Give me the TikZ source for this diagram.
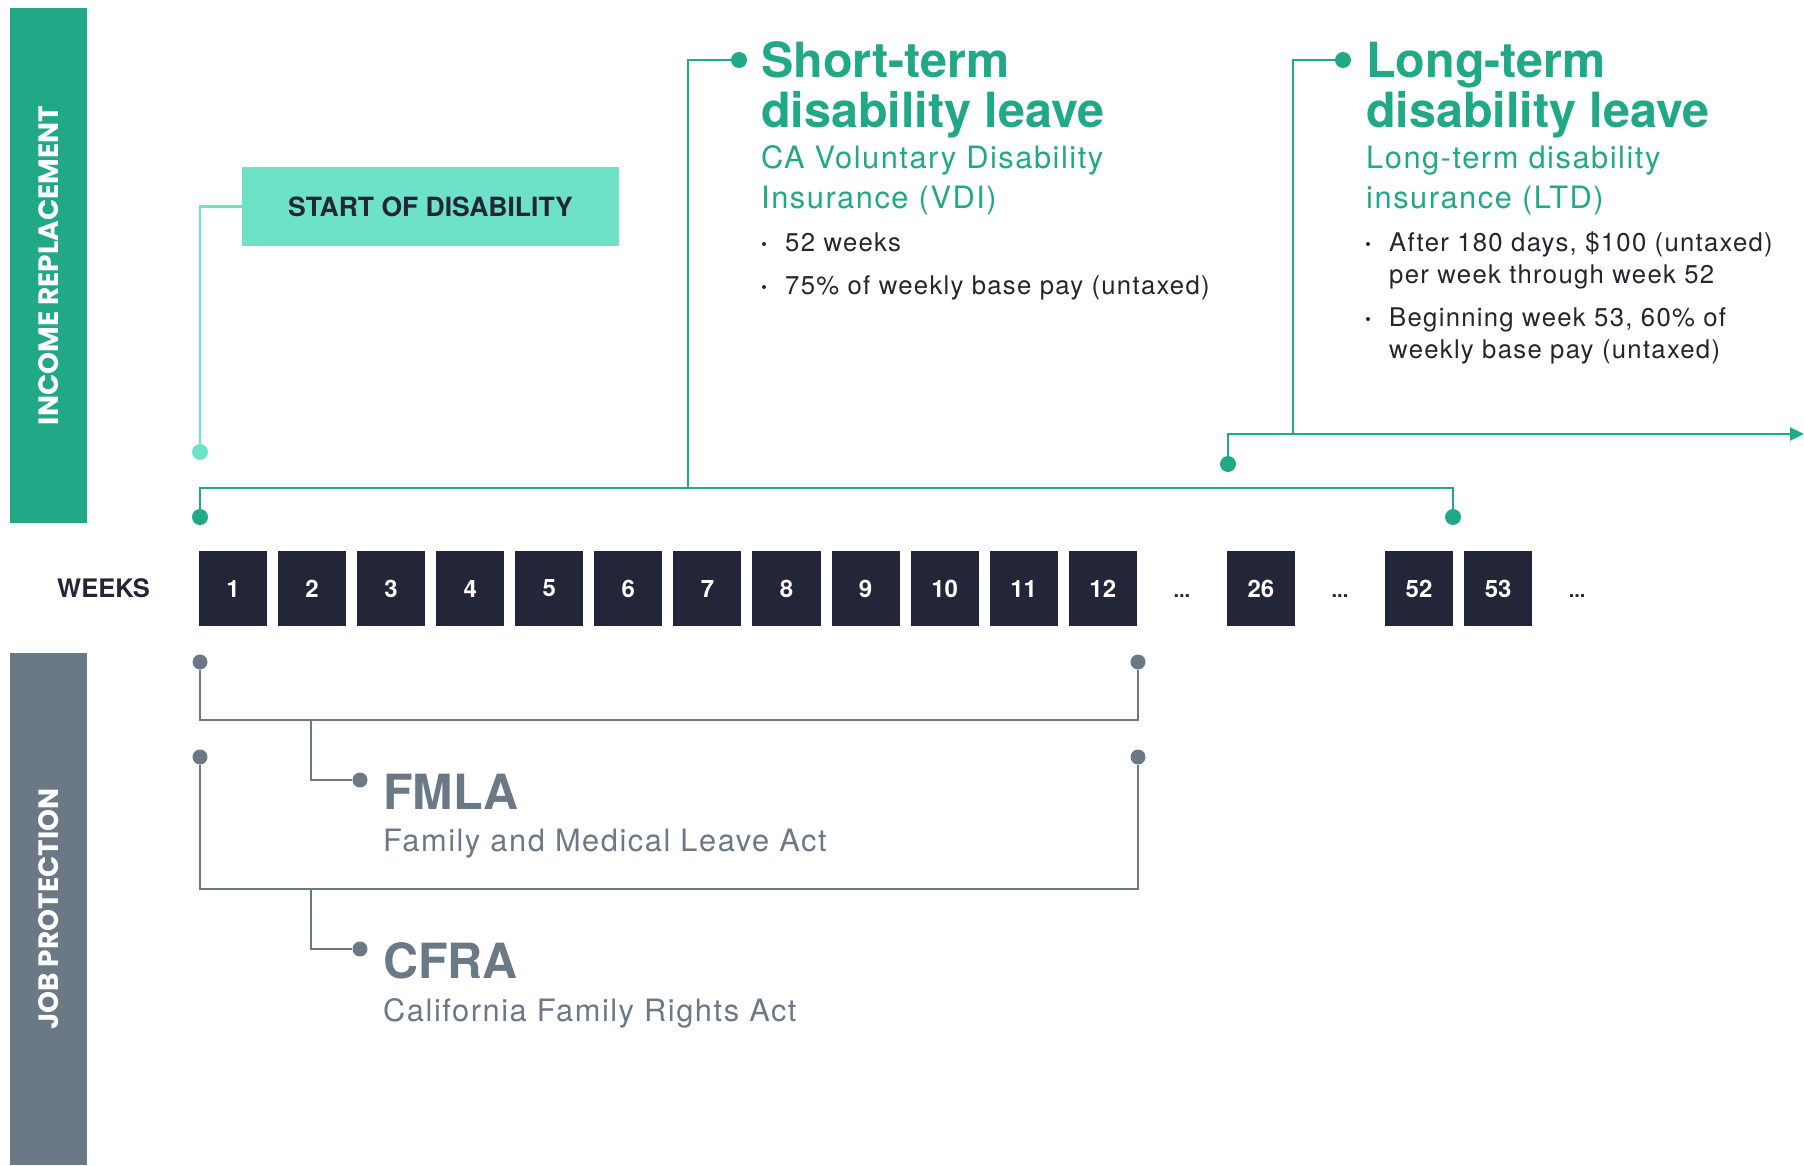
\documentclass[tikz,border=0pt]{standalone}
\usepackage{fontspec}
\setmainfont{TeX Gyre Heros}
\newfontfamily\spacedfont[LetterSpace=5]{TeX Gyre Heros}
\newfontfamily\widelabelfont{Poppins}
\usetikzlibrary{arrows.meta}

\definecolor{brandgreen}{HTML}{21A886}
\definecolor{paleteal}{HTML}{6EE2C6}
\definecolor{navy}{HTML}{232538}
\definecolor{slate}{HTML}{6B7885}
\definecolor{ink}{HTML}{24252E}

\tikzset{
  sidebar/.style={rotate=90, inner sep=0, text=white,
    minimum height=77pt, font=\widelabelfont\bfseries\fontsize{28}{28}\selectfont},
  weekbox/.style={fill=navy, text=white, inner sep=0, minimum width=68pt,
    minimum height=75pt, font=\bfseries\fontsize{24}{24}\selectfont},
  gap/.style={inner sep=0, anchor=base, text=navy, font=\bfseries\fontsize{20}{20}\selectfont},
  greendot/.style={circle, fill=brandgreen, inner sep=0, minimum size=16pt},
  tealdot/.style={circle, fill=paleteal, inner sep=0, minimum size=16pt},
  slatedot/.style={circle, fill=slate, inner sep=0, minimum size=15pt},
  gline/.style={draw=brandgreen, line width=2.2pt},
  tline/.style={draw=paleteal, line width=2.2pt},
  sline/.style={draw=slate, line width=2pt},
  headline/.style={anchor=base west, inner sep=0, text=brandgreen,
    font=\bfseries\fontsize{48.5}{50}\selectfont},
  subline/.style={anchor=base west, inner sep=0, text=brandgreen,
    font=\spacedfont\fontsize{30.8}{30.8}\selectfont},
  bulletline/.style={anchor=base west, inner sep=0, text=ink,
    font=\spacedfont\fontsize{25.7}{25.7}\selectfont},
  slatehead/.style={anchor=base west, inner sep=0, text=slate,
    font=\bfseries\fontsize{48.5}{50}\selectfont},
  slatesub/.style={anchor=base west, inner sep=0, text=slate,
    font=\spacedfont\fontsize{30.8}{30.8}\selectfont},
}

\begin{document}
\begin{tikzpicture}[x=1pt, y=-1pt]
\useasboundingbox (0,0) rectangle (1804,1165);

% side bars
\node[sidebar, fill=brandgreen, minimum width=515pt] (income) at (48.5,265.5) {INCOME REPLACEMENT};
\node[sidebar, fill=slate, minimum width=512pt] (jobprot) at (48.5,909) {JOB PROTECTION};

% week row
\node[anchor=base west, inner sep=0, text=navy, font=\bfseries\fontsize{25.5}{25.5}\selectfont]
  (weeks) at (57,597) {WEEKS};
\foreach \n/\s in {1/1,2/2,3/3,4/4,5/5,6/6,7/7,8/8,9/9,10/10,11/11,12/12,26/14,52/16,53/17}
  \node[weekbox] (w\n) at ({199+(\s-1)*79.07+34},588.5) {\n};
\node[gap] (gapA) at ({199+12*79.07+34},597) {...};
\node[gap] (gapB) at ({199+14*79.07+34},597) {...};
\node[gap] (gapC) at ({199+17*79.07+34},597) {...};

% start of disability
\node[fill=paleteal, text=navy, inner sep=0, minimum width=377pt, minimum height=79pt,
  font=\bfseries\fontsize{26.5}{26.5}\selectfont] (start) at (430.5,206.5) {START OF DISABILITY};
\node[tealdot] (startdot) at (200,452) {};
\draw[tline] (start.west) -| (startdot);

% short-term disability bracket
\node[greendot] (first) at (200,517) {};
\node[greendot] (last) at (1453,517) {};
\node[greendot] (stdot) at (739,60) {};
\coordinate (stjoin) at (688,488);
\draw[gline] (first) |- (stjoin) -| (last);
\draw[gline] (stjoin) |- (stdot);

% long-term disability connector
\node[greendot] (ltdot) at (1228,464) {};
\node[greendot] (lttop) at (1343,60) {};
\coordinate (ltjoin) at (1293,434);
\coordinate (ltend) at (1804,434);
\draw[gline, -{Triangle[length=14pt,width=13pt]}] (ltdot) |- (ltend);
\draw[gline] (ltjoin) |- (lttop);

% short-term text
\node[headline] (sth1) at (761,77) {Short-term};
\node[headline] (sth2) at (761,127) {disability leave};
\node[subline] (sts1) at (761,168) {CA Voluntary Disability};
\node[subline] (sts2) at (761,208) {Insurance (VDI)};
\fill[ink] (764,244) circle[radius=2pt];
\node[bulletline] (stb1) at (785,251) {52 weeks};
\fill[ink] (764,287) circle[radius=2pt];
\node[bulletline] (stb2) at (785,294) {75\% of weekly base pay (untaxed)};

% long-term text
\node[headline] (lth1) at (1366,77) {Long-term};
\node[headline] (lth2) at (1366,127) {disability leave};
\node[subline] (lts1) at (1366,168) {Long-term disability};
\node[subline] (lts2) at (1366,208) {insurance (LTD)};
\fill[ink] (1368,244) circle[radius=2pt];
\node[bulletline] (ltb1) at (1389,251) {After 180 days, \$100 (untaxed)};
\node[bulletline] (ltb1b) at (1389,283) {per week through week 52};
\fill[ink] (1368,319) circle[radius=2pt];
\node[bulletline] (ltb2) at (1389,326) {Beginning week 53, 60\% of};
\node[bulletline] (ltb2b) at (1389,358) {weekly base pay (untaxed)};

% job protection brackets
\node[slatedot] (fa) at (200,662) {};
\node[slatedot] (fb) at (1138,662) {};
\node[slatedot] (fdot) at (360,780) {};
\coordinate (fjoin) at (311,720);
\draw[sline] (fa) |- (fjoin) -| (fb);
\draw[sline] (fjoin) |- (fdot);

\node[slatedot] (ca) at (200,757) {};
\node[slatedot] (cb) at (1138,757) {};
\node[slatedot] (cdot) at (360,949) {};
\coordinate (cjoin) at (311,889);
\draw[sline] (ca) |- (cjoin) -| (cb);
\draw[sline] (cjoin) |- (cdot);

\node[slatehead] (fmla) at (383,809) {FMLA};
\node[slatesub] (fmlasub) at (383,851) {Family and Medical Leave Act};
\node[slatehead] (cfra) at (383,978) {CFRA};
\node[slatesub] (cfrasub) at (383,1021) {California Family Rights Act};
\end{tikzpicture}
\end{document}
